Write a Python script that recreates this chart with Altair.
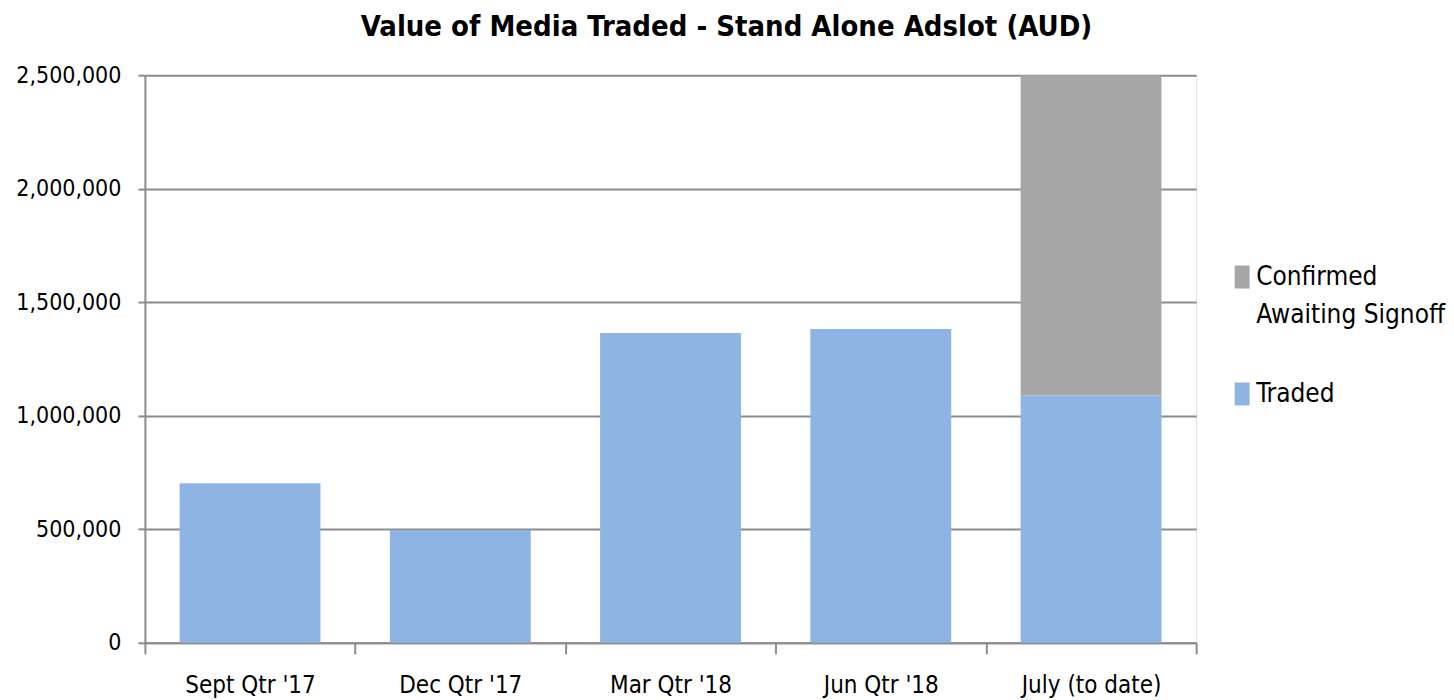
import altair as alt
import pandas as pd

categories = ["Sept Qtr '17", "Dec Qtr '17", "Mar Qtr '18", "Jun Qtr '18", "July (to date)"]
traded = [703000, 497000, 1364000, 1382000, 1089000]
confirmed = [0, 0, 0, 0, 1411000]
series_names = ["Confirmed|Awaiting Signoff", "Traded"]
y_ticks = [0, 500000, 1000000, 1500000, 2000000, 2500000]

rows = []
for c, t, a in zip(categories, traded, confirmed):
    rows.append({"cat": c, "series": series_names[1], "value": t, "ord": 0})
    if a > 0:
        rows.append({"cat": c, "series": series_names[0], "value": a, "ord": 1})
df = pd.DataFrame(rows)

FONT = "DejaVu Sans Condensed, sans-serif"

chart = alt.Chart(df).mark_bar(width=alt.RelativeBandSize(0.67)).encode(
    x=alt.X("cat:N", sort=categories, title=None,
            scale=alt.Scale(paddingInner=0, paddingOuter=0),
            axis=alt.Axis(labelAngle=0, tickBand="extent", tickSize=11, grid=False,
                          labelFontSize=24, labelPadding=20, labelColor="#000",
                          domainColor="#8c8c8c", tickColor="#8c8c8c",
                          domainWidth=2, tickWidth=2, labelFont=FONT)),
    y=alt.Y("value:Q", stack="zero", title=None,
            scale=alt.Scale(domain=[0, 2500000], nice=False),
            axis=alt.Axis(values=y_ticks, format=",d", tickSize=7,
                          labelFontSize=23, labelPadding=17, labelColor="#000",
                          gridColor="#8c8c8c", gridWidth=2, domainColor="#8c8c8c",
                          domainWidth=2, tickColor="#8c8c8c", tickWidth=2,
                          labelFont=FONT)),
    color=alt.Color("series:N", sort=series_names,
                    scale=alt.Scale(domain=series_names, range=["#A6A6A6", "#8EB4E3"]),
                    legend=alt.Legend(title=None, orient="none", legendX=1085, legendY=176,
                                      labelExpr="split(datum.label, '|')",
                                      labelFontSize=26, labelFont=FONT, labelColor="#000",
                                      labelLimit=400, labelBaseline="top",
                                      symbolType="M-0.65,0.13h1.3v2h-1.3z",
                                      symbolSize=529,
                                      symbolStrokeWidth=0, rowPadding=40,
                                      labelOffset=1)),
    order=alt.Order("ord:Q", sort="ascending"),
).properties(
    width=1052, height=568,
    autosize=alt.AutoSizeParams(type="none"),
    padding={"left": 137, "top": 67, "right": 250, "bottom": 60},
    title=alt.TitleParams("Value of Media Traded - Stand Alone Adslot (AUD)",
                          fontSize=29, font=FONT, fontWeight="bold", color="#000",
                          anchor="middle", dx=56, offset=22),
).configure_view(stroke=None).configure(style={"guide-label": {"lineHeight": 38}})

chart.save("out.html", embed_options={"renderer": "svg", "actions": False})
